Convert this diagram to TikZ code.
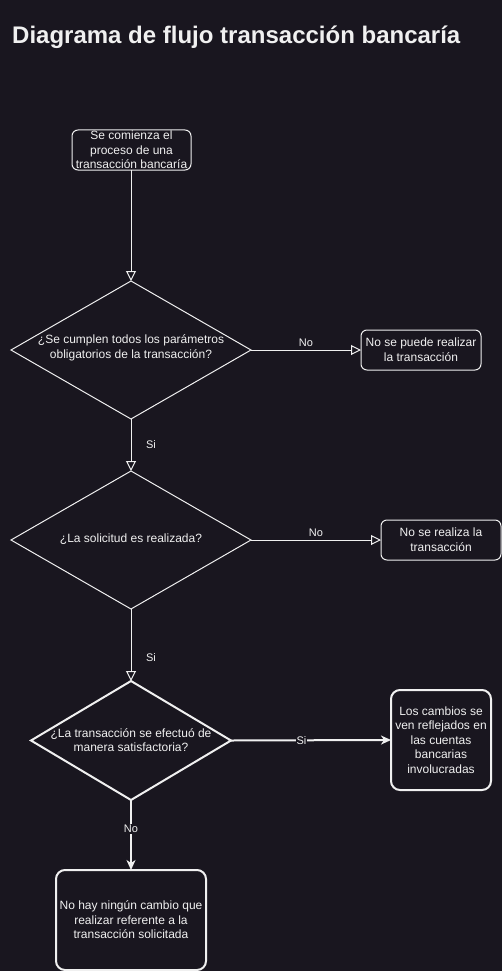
\documentclass[tikz,border=0pt]{standalone}
\usepackage{fontspec}
\setmainfont{Liberation Sans}
\usetikzlibrary{arrows.meta,shapes.geometric}
\definecolor{bg}{RGB}{25,22,31}
\definecolor{fg}{RGB}{240,240,240}
\tikzset{
  txt/.style={text=fg, font=\fontsize{12}{14.6}\selectfont, align=center, inner sep=0pt},
  box/.style={draw=fg, line width=1pt, rounded corners=6pt, outer sep=0pt, inner sep=0pt},
  thickbox/.style={draw=fg, line width=2pt, rounded corners=9pt, outer sep=0pt, inner sep=0pt},
  dia/.style={diamond, draw=fg, line width=1pt, outer sep=0pt, inner sep=0pt},
  thickdia/.style={diamond, draw=fg, line width=2pt, outer sep=0pt, inner sep=0pt},
  openarrow/.style={draw=fg, line width=1pt, -{Triangle[length=10pt,width=10pt,fill=bg,line width=1pt]}},
  fillarrow/.style={draw=fg, line width=2pt, -{Stealth[length=10pt,width=9pt,inset=3pt]}},
  lbl/.style={text=fg, font=\fontsize{11}{13}\selectfont, inner sep=1pt},
}
\begin{document}
\begin{tikzpicture}[x=1pt,y=-1pt]
\fill[bg] (0,0) rectangle (502,971);
\useasboundingbox (0,0) rectangle (502,971);
\node[anchor=base west, text=fg, font=\fontsize{24}{28}\selectfont\bfseries, inner sep=0pt] (title) at (12,44) {Diagrama de flujo transacción bancaría};

\node[box, minimum width=119pt, minimum height=40pt] (s) at (131.5,150) {};
\node[txt] (st) at (s) {Se comienza el\\proceso de una\\transacción bancaría};

\node[dia, minimum width=240pt, minimum height=138pt] (d1) at (131,350) {};
\node[txt] (d1t) at (131,348) {¿Se cumplen todos los parámetros\\obligatorios de la transacción?};

\node[box, minimum width=120pt, minimum height=40pt] (b2) at (421,350) {};
\node[txt] (b2t) at (b2) {No se puede realizar\\la transacción};

\node[dia, minimum width=240pt, minimum height=138pt] (d2) at (131,540) {};
\node[txt] (d2t) at (131,539) {¿La solicitud es realizada?};

\node[box, minimum width=120pt, minimum height=40pt] (b3) at (441,540) {};
\node[txt] (b3t) at (b3) {No se realiza la\\transacción};

\node[thickdia, minimum width=200pt, minimum height=119pt] (d3) at (131,740.5) {};
\node[txt] (d3t) at (131,740) {¿La transacción se efectuó de\\manera satisfactoria?};

\node[thickbox, minimum width=100pt, minimum height=100pt] (b4) at (441,740) {};
\node[txt] (b4t) at (b4) {Los cambios se\\ven reflejados en\\las cuentas\\bancarias\\involucradas};

\node[thickbox, minimum width=150pt, minimum height=100pt] (b5) at (131,920) {};
\node[txt] (b5t) at (b5) {No hay ningún cambio que\\realizar referente a la\\transacción solicitada};

\draw[openarrow] (s.south -| d1.north) -- (d1.north);
\draw[openarrow] (d1.east) -- node[lbl, above=2pt] (l1) {No} (b2.west);
\draw[openarrow] (d1.south) -- node[lbl, pos=0.5, xshift=20pt] (l2) {Si} (d2.north);
\draw[openarrow] (d2.east) -- node[lbl, above=2pt] (l3) {No} (b3.west);
\draw[openarrow] (d2.south) -- node[lbl, pos=0.68, xshift=20pt] (l4) {Si} (d3.north);
\draw[fillarrow] (d3.east) -- node[lbl, pos=0.44, fill=bg] (l5) {Si} (b4.west);
\draw[fillarrow] (d3.south) -- node[lbl, pos=0.41, fill=bg] (l6) {No} (b5.north);
\end{tikzpicture}
\end{document}
